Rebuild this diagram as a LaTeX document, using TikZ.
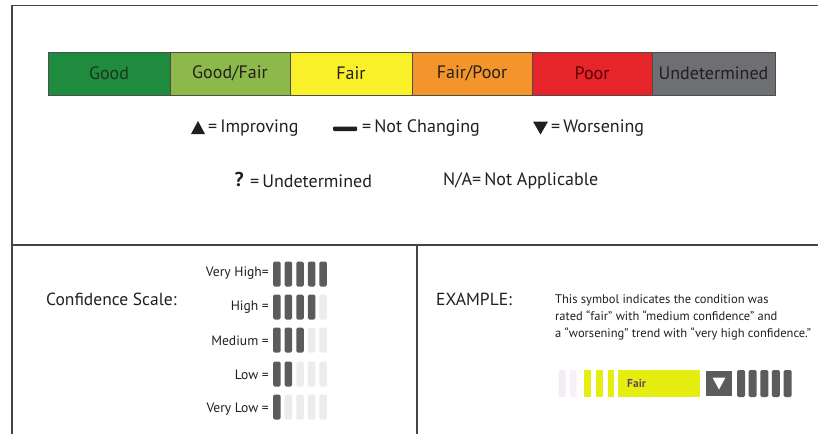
\documentclass[tikz,border=0pt]{standalone}
\usepackage{fontspec}
\setmainfont{PT Sans}
\definecolor{cGood}{HTML}{1E8B3E}
\definecolor{cGoodFair}{HTML}{8DB84A}
\definecolor{cFair}{HTML}{FAF02A}
\definecolor{cFairPoor}{HTML}{F4952B}
\definecolor{cPoor}{HTML}{E52529}
\definecolor{cUnd}{HTML}{6E6F72}
\definecolor{frame}{HTML}{444444}
\definecolor{ink}{HTML}{231F20}
\definecolor{barDark}{HTML}{5C5C5E}
\definecolor{barFade}{HTML}{ECECEE}
\definecolor{exYellow}{HTML}{E6EE10}
\definecolor{fairInk}{HTML}{5E4A5E}
\tikzset{
  seg/.style={draw=ink!80, line width=0.8pt, minimum width=120pt, minimum height=43pt, inner sep=0pt, font=\fontsize{18}{21}\selectfont, text=ink},
  legtxt/.style={anchor=west, inner sep=0pt, font=\fontsize{18}{21}\selectfont, text=ink},
  hdtxt/.style={anchor=west, inner sep=0pt, font=\fontsize{17.5}{20}\selectfont, text=ink},
  conflbl/.style={anchor=east, inner sep=0pt, font=\fontsize{13.6}{16}\selectfont, text=ink},
  cbar/.style={fill=barDark, rounded corners=1.5pt, minimum width=7.5pt, minimum height=25pt, inner sep=0pt},
  fbar/.style={fill=barFade, rounded corners=1.5pt, minimum width=7.5pt, minimum height=25pt, inner sep=0pt},
  framel/.style={draw=frame, line width=1.8pt}
}
\begin{document}
\begin{tikzpicture}[x=1pt,y=-1pt]
\useasboundingbox (0,0) rectangle (818,434);
\fill[white] (0,0) rectangle (818,434);
% frame
\coordinate (tl) at (12,5.5);
\coordinate (tr) at (818,5.5);
\coordinate (bl) at (12,434);
\coordinate (ml) at (12,245);
\coordinate (mr) at (818,245);
\coordinate (mm) at (417,245);
\coordinate (mb) at (417,434);
\draw[framel] (bl) -- (tl) -- (tr);
\draw[framel] (ml) -- (mr);
\draw[framel] (mm) -- (mb);
% colour bar
\node[seg, fill=cGood, minimum width=122pt, text=ink!90!green] (good) at (109,73.5) {Good};
\node[seg, fill=cGoodFair] (goodfair) at (230,73.5) {Good/Fair};
\node[seg, fill=cFair, minimum width=122pt] (fair) at (351,73.5) {Fair};
\node[seg, fill=cFairPoor] (fairpoor) at (472,73.5) {Fair/Poor};
\node[seg, fill=cPoor, text=red!35!black] (poor) at (592,73.5) {Poor};
\node[seg, fill=cUnd, minimum width=123pt] (und) at (713.5,73.5) {Undetermined};
% legend row 1
\fill[ink] (191,134) -- (205,134) -- (198,121) -- cycle;
\node[legtxt] (impr) at (208,128) {=\,Improving};
\fill[ink, rounded corners=1pt] (333,126.5) rectangle (357,131);
\node[legtxt] (notch) at (362,128) {=\,Not Changing};
\fill[ink] (533,121.5) -- (548,121.5) -- (540.5,134.5) -- cycle;
\node[legtxt] (wors) at (551,128) {=\,Worsening};
% legend row 2
\node[legtxt, font=\fontsize{20}{22}\selectfont\bfseries] (qm) at (234.5,179.5) {?};
\node[legtxt] (undt) at (250,181) {=\,Undetermined};
\node[legtxt] (na) at (443,181) {N/A=\,Not Applicable};
% confidence scale
\node[hdtxt] (cs) at (46,299) {Confidence Scale:};
\node[conflbl] (vh) at (269,273) {Very High=};
\node[conflbl] (hi) at (269,307) {High =};
\node[conflbl] (me) at (269,341) {Medium =};
\node[conflbl] (lo) at (269,375) {Low =};
\node[conflbl] (vl) at (269,409) {Very Low =};
\foreach \r/\y/\n in {vh/274/5, hi/307/4, me/340/3, lo/374/2, vl/407/1}{
  \foreach \i in {1,...,5}{
    \pgfmathsetmacro{\xx}{265.2+\i*11.6}
    \ifnum\i>\n
      \node[fbar] (\r\i) at (\xx,\y) {};
    \else
      \node[cbar] (\r\i) at (\xx,\y) {};
    \fi
  }
}
% example
\node[hdtxt] (ex) at (436,299) {EXAMPLE:};
\node[anchor=north west, inner sep=0pt, align=left, font=\fontsize{12.5}{17}\selectfont, text=ink] (desc) at (555,294)
  {This symbol indicates the condition was\\rated “fair” with “medium confidence” and\\a “worsening” trend with “very high confidence.”};
\node[fbar, fill=violet!8, minimum width=7pt, minimum height=27pt] (ef1) at (562,383.5) {};
\node[fbar, fill=violet!6, minimum width=7pt, minimum height=27pt] (ef2) at (573,383.5) {};
\node[fill=exYellow, minimum width=7pt, minimum height=27pt, inner sep=0pt] (ey1) at (587,383.5) {};
\node[fill=exYellow, minimum width=7pt, minimum height=27pt, inner sep=0pt] (ey2) at (599,383.5) {};
\node[fill=exYellow, minimum width=6pt, minimum height=27pt, inner sep=0pt] (ey3) at (610.5,383.5) {};
\node[fill=exYellow, minimum width=82pt, minimum height=27pt, inner sep=0pt] (efair) at (659,383.5) {};
\node[anchor=west, inner sep=0pt, font=\fontsize{11.5}{13}\selectfont\bfseries, text=fairInk] (efairt) at (627,383.5) {Fair};
\node[fill=barDark, minimum width=26pt, minimum height=25pt, inner sep=0pt] (etr) at (719,383.5) {};
\fill[white] (712.5,377.5) -- (725.5,377.5) -- (719,389.5) -- cycle;
\foreach \i in {1,...,5}{
  \pgfmathsetmacro{\xx}{729.5+\i*11.6}
  \node[cbar, minimum width=8pt, minimum height=27pt] (eb\i) at (\xx,383.5) {};
}
\end{tikzpicture}
\end{document}
